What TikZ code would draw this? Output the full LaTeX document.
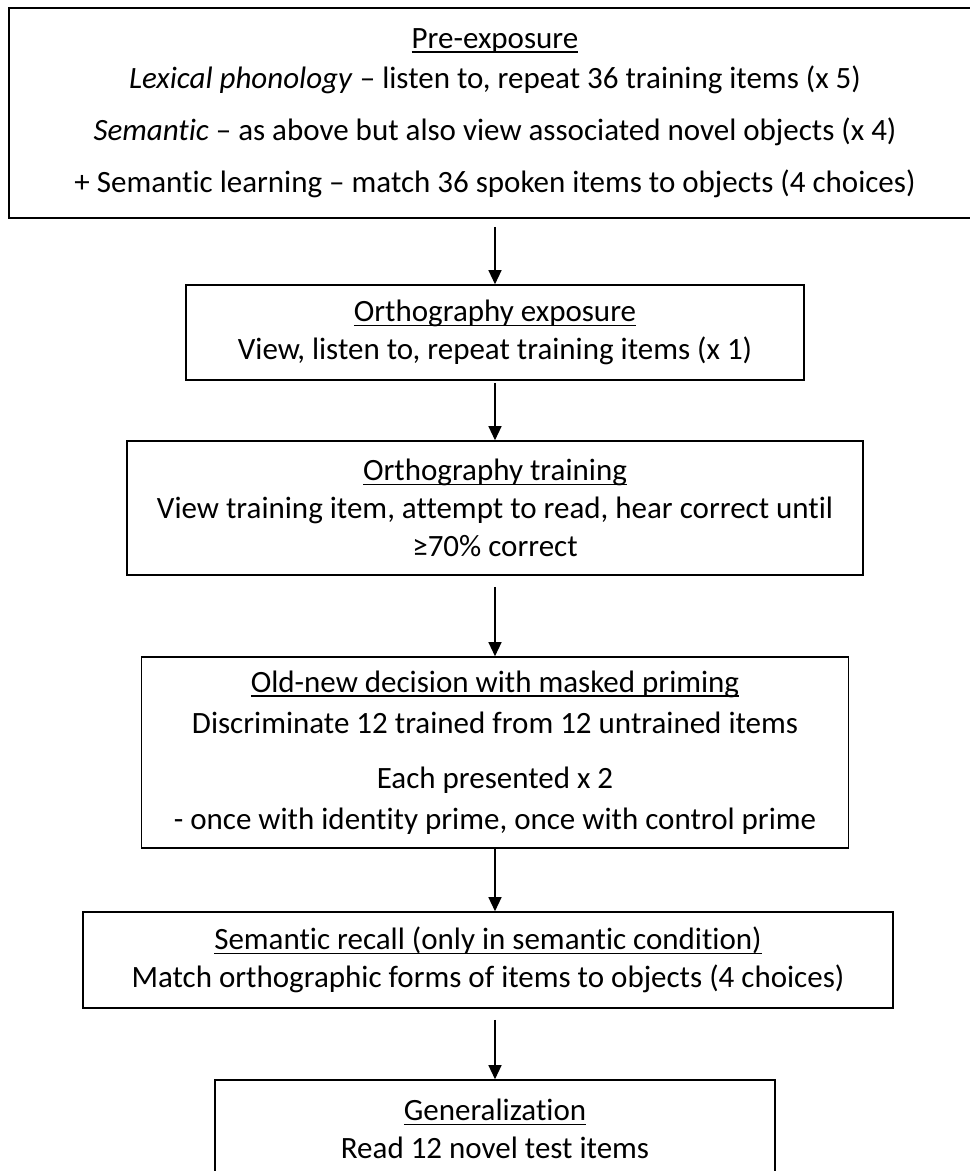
\documentclass[tikz,border=0pt]{standalone}
\usepackage{fontspec}
\setmainfont{Carlito}[Ligatures={NoCommon}]
\usetikzlibrary{arrows.meta}
\newcommand\ulx[1]{\setbox0\hbox{#1}\rlap{\rule[-4.5pt]{\wd0}{1.6pt}}\box0}
\begin{document}
\begin{tikzpicture}[x=1pt,y=-1pt,
  box/.style={draw=black, line width=1.6pt, align=center, inner sep=0pt,
    font=\fontsize{31}{38}\selectfont},
  arr/.style={-{Triangle[width=13pt,length=14pt]}, line width=1.3pt}]
\useasboundingbox (0,0) rectangle (970,1171);
\node[box, minimum width=972pt, minimum height=210pt] (pre) at (495,113)
  {\ulx{Pre-exposure}\\[2pt]
   \textit{Lexical phonology} – listen to, repeat 36 training items (x 5)\\[14pt]
   \textit{Semantic} – as above but also view associated novel objects (x 4)\\[14pt]
   + Semantic learning – match 36 spoken items to objects (4 choices)};
\node[box, minimum width=618pt, minimum height=95pt] (oe) at (495,332.5)
  {\ulx{Orthography exposure}\\
   View, listen to, repeat training items (x 1)};
\node[box, minimum width=736pt, minimum height=134pt] (ot) at (495,508)
  {\ulx{Orthography training}\\
   View training item, attempt to read, hear correct until\\
   ≥70\% correct};
\node[box, minimum width=707pt, minimum height=191pt] (on) at (495,752.5)
  {\ulx{Old-new decision with masked priming}\\[3pt]
   Discriminate 12 trained from 12 untrained items\\[17pt]
   Each presented x 2\\[3pt]
   - once with identity prime, once with control prime};
\node[box, minimum width=810pt, minimum height=96pt] (sr) at (488,960)
  {\ulx{Semantic recall (only in semantic condition)}\\
   Match orthographic forms of items to objects (4 choices)};
\node[box, minimum width=560pt, minimum height=98pt] (ge) at (495,1129)
  {\ulx{Generalization}\\
   Read 12 novel test items};
\draw[arr] ([yshift=-8pt]pre.south -| oe.north) -- (oe.north);
\draw[arr] ([yshift=-2pt]oe.south) -- (ot.north);
\draw[arr] ([yshift=-11pt]ot.south) -- (on.north);
\draw[arr] (on.south) -- (on.south |- sr.north);
\draw[arr] ([yshift=-11pt]sr.south -| ge.north) -- (ge.north);
\end{tikzpicture}
\end{document}
